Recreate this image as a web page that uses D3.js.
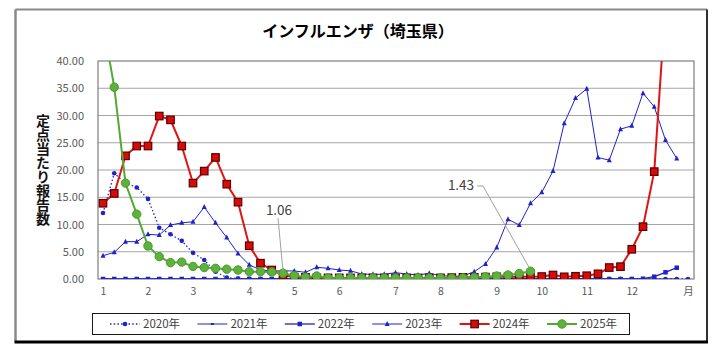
<!DOCTYPE html>
<html><head><meta charset="utf-8">
<script src="https://cdn.jsdelivr.net/npm/d3@7/dist/d3.min.js"></script>
<style>
html,body{margin:0;padding:0;background:#fff;}
svg{display:block;font-family:"Noto Sans CJK JP","Noto Sans",sans-serif;}
</style></head>
<body><svg id="c" width="721" height="355"></svg>
<script>
// ---- data ----
const title = "インフルエンザ（埼玉県）";
const yTitle = "定点当たり報告数";
const monthTickWeeks = [1,5,9,14,18,22,27,31,36,40,44,48,53];
const monthTickLabels = ["1","2","3","4","5","6","7","8","9","10","11","12","月"];
const yTicks = [0,5,10,15,20,25,30,35,40];
const seriesNames = ["2020年","2021年","2022年","2023年","2024年","2025年"];

const v2020 = [12.1,19.4,17.6,16.8,14.7,9.4,8.2,7.0,4.8,3.5,1.35,0.25,0.06,0.02,0.01,0,0,0,0,0,0,0,0,0,0,0,0,0,0,0,0,0,0,0,0,0,0,0,0,0,0,0,0,0,0,0,0,0,0,0,0,0,0];
const v2021 = [0,0,0,0,0,0,0,0,0,0,0,0,0,0,0,0,0,0,0,0,0,0,0,0,0,0,0,0,0,0,0,0,0,0,0,0,0,0,0,0,0,0,0,0,0,0,0,0,0,0,0,0];
const v2022 = [0,0,0,0,0,0,0,0,0,0,0,0,0,0,0,0,0,0,0,0,0,0,0,0,0,0,0,0,0,0,0,0,0,0,0,0,0,0,0,0,0,0,0,0,0,0,0,0,0.05,0.42,1.23,2.07];
const v2023 = [4.28,4.9,6.85,6.85,8.2,8.07,9.9,10.3,10.5,13.2,10.3,7.6,4.7,2.6,1.65,1.47,1.5,1.47,1.23,2.15,1.96,1.65,1.5,0.92,0.86,0.86,1.16,0.92,0.73,1.05,0.6,0.5,0.55,1.35,2.75,5.8,10.95,9.9,13.9,15.9,19.8,28.6,33.2,34.9,22.3,21.8,27.5,28.1,34.1,31.6,25.5,22.1];
const v2024 = [13.9,15.7,22.6,24.4,24.4,29.9,29.2,24.4,17.6,19.8,22.3,17.4,14.1,6.1,2.9,1.65,0.7,0.35,0.3,0.2,0.2,0.2,0.2,0.2,0.2,0.2,0.2,0.2,0.2,0.2,0.2,0.25,0.3,0.3,0.35,0.4,0.4,0.42,0.4,0.45,0.73,0.4,0.5,0.6,0.95,2.1,2.26,5.45,9.6,19.7,50.5,70];
const v2025 = [47,35.2,17.6,11.9,6.06,4.1,3.0,3.1,2.3,2.1,1.96,1.8,1.65,1.35,1.35,1.3,1.06,0.6,0.35,0.55,0.2,0.2,0.2,0.2,0.2,0.2,0.2,0.2,0.2,0.2,0.2,0.15,0.2,0.3,0.42,0.55,0.73,1.0,1.43];

const labelPoints = [{series:5, week:17, text:"1.06"},{series:5, week:39, text:"1.43"}];

// ---- layout / styles ----
const W=721,H=355;
const plot = {l:98, r:694, t:61, b:279};
const blue = "#1e22c8";
const styles = [
  {color:blue, width:1.3, dash:"1.5,2.2", marker:"circle", size:2.3, fill:blue, stroke:"none"},
  {color:blue, width:1.0, dash:null, marker:"dash", size:2, fill:blue, stroke:"none"},
  {color:blue, width:1.3, dash:null, marker:"square", size:4.5, fill:blue, stroke:"none"},
  {color:blue, width:1.0, dash:null, marker:"triangle", size:5, fill:blue, stroke:"none"},
  {color:"#e01414", width:2, dash:null, marker:"square", size:7.5, fill:"#d80a0a", stroke:"#5a0000"},
  {color:"#55a836", width:2, dash:null, marker:"circle", size:4.2, fill:"#5cb23a", stroke:"#4a9a2c"}
];
const allSeries = [v2020,v2021,v2022,v2023,v2024,v2025];

const svg = d3.select("#c");
svg.append("rect").attr("width",W).attr("height",H).attr("fill","#fff");

// outer frame
const fr = {l:15.5,t:9.5,r:707,b:342};
svg.append("line").attr("x1",fr.l).attr("y1",fr.t).attr("x2",fr.r).attr("y2",fr.t).attr("stroke","#8a8a8a").attr("stroke-width",2);
svg.append("line").attr("x1",fr.l).attr("y1",fr.t).attr("x2",fr.l).attr("y2",fr.b).attr("stroke","#8a8a8a").attr("stroke-width",2.5);
svg.append("line").attr("x1",fr.r).attr("y1",fr.t).attr("x2",fr.r).attr("y2",fr.b).attr("stroke","#303030").attr("stroke-width",2);
svg.append("line").attr("x1",fr.l-1).attr("y1",fr.b).attr("x2",fr.r+1).attr("y2",fr.b).attr("stroke","#000").attr("stroke-width",3);

const x = d3.scaleLinear().domain([1,53]).range([103,688]);
const y = d3.scaleLinear().domain([0,40]).range([plot.b,plot.t]);

// gridlines
svg.append("g").selectAll("line").data(yTicks.filter(d=>d>0 && d<40)).join("line")
  .attr("x1",plot.l).attr("x2",plot.r).attr("y1",d=>y(d)).attr("y2",d=>y(d))
  .attr("stroke","#a6a6a6").attr("stroke-width",1);
svg.append("rect").attr("x",plot.l).attr("y",plot.t).attr("width",plot.r-plot.l).attr("height",plot.b-plot.t)
  .attr("fill","none").attr("stroke","#7f7f7f").attr("stroke-width",1.2);

// axes
const yAxis = svg.append("g").attr("transform",`translate(${plot.l},0)`)
  .call(d3.axisLeft(y).tickValues(yTicks).tickFormat(d3.format(".2f")).tickSize(0).tickPadding(14));
yAxis.select(".domain").remove();
yAxis.selectAll("text").attr("fill","#595959").style("font-size","11px").style("font-family","'Noto Sans CJK JP','Noto Sans',sans-serif");

const xAxis = svg.append("g").attr("transform",`translate(0,${plot.b})`)
  .call(d3.axisBottom(x).tickValues(monthTickWeeks).tickFormat((d,i)=>monthTickLabels[i]).tickSize(0).tickPadding(9));
xAxis.select(".domain").remove();
xAxis.selectAll("text").attr("fill","#595959").style("font-size","10.5px").style("font-family","'Noto Sans CJK JP','Noto Sans',sans-serif");

// title
svg.append("text").attr("x",358).attr("y",37).attr("text-anchor","middle")
  .style("font-size","16px").style("font-weight","bold").attr("fill","#000").text(title);

// y title vertical
svg.append("text").attr("x",43).attr("y",170).attr("text-anchor","middle")
  .style("writing-mode","vertical-rl").style("text-orientation","upright")
  .style("font-size","14px").style("font-weight","bold").attr("fill","#111").text(yTitle);

// clip
svg.append("clipPath").attr("id","pc").append("rect")
  .attr("x",plot.l).attr("y",plot.t).attr("width",plot.r-plot.l).attr("height",plot.b-plot.t);
const g = svg.append("g").attr("clip-path","url(#pc)");

function drawMarker(sel, st, cx, cy){
  if(st.marker==="circle"){
    sel.append("circle").attr("cx",cx).attr("cy",cy).attr("r",st.size).attr("fill",st.fill).attr("stroke",st.stroke);
  } else if(st.marker==="square"){
    sel.append("rect").attr("x",cx-st.size/2).attr("y",cy-st.size/2).attr("width",st.size).attr("height",st.size)
      .attr("fill",st.fill).attr("stroke",st.stroke).attr("stroke-width",st.stroke==="none"?0:1.2);
  } else if(st.marker==="triangle"){
    const s=st.size;
    sel.append("path").attr("d",`M${cx},${cy-s*0.6}L${cx+s/2},${cy+s*0.4}L${cx-s/2},${cy+s*0.4}Z`).attr("fill",st.fill);
  } else if(st.marker==="dash"){
    sel.append("rect").attr("x",cx-1.5).attr("y",cy-1).attr("width",3).attr("height",st.size).attr("fill",st.fill);
  }
}

const line = d3.line().x((d,i)=>x(i+1)).y(d=>y(d));
allSeries.forEach((vals,si)=>{
  const st = styles[si];
  const sg = g.append("g");
  sg.append("path").datum(vals).attr("d",line).attr("fill","none")
    .attr("stroke",st.color).attr("stroke-width",st.width).attr("stroke-dasharray",st.dash)
    .attr("stroke-linejoin","round");
  vals.forEach((v,i)=>drawMarker(sg, st, x(i+1), y(v)));
});

// data labels with leader lines
const lab = labelPoints.map(p=>({...p, px:x(p.week), py:y(allSeries[p.series][p.week-1])}));
svg.append("line").attr("x1",278).attr("y1",218).attr("x2",lab[0].px).attr("y2",lab[0].py-2)
  .attr("stroke","#a0a0a0").attr("stroke-width",1);
svg.append("text").attr("x",279).attr("y",215).attr("text-anchor","middle").style("font-size","13.5px").attr("fill","#404040").text(lab[0].text);
svg.append("polyline").attr("points",`477,186 483,186 ${lab[1].px-1},${lab[1].py-3}`)
  .attr("fill","none").attr("stroke","#a0a0a0").attr("stroke-width",1);
svg.append("text").attr("x",461).attr("y",190).attr("text-anchor","middle").style("font-size","13.5px").attr("fill","#404040").text(lab[1].text);

// legend
const lg = svg.append("g");
lg.append("rect").attr("x",92.5).attr("y",313.5).attr("width",537).attr("height",21).attr("fill","#fff").attr("stroke","#1a1a1a").attr("stroke-width",1);
seriesNames.forEach((name,i)=>{
  const st = styles[i];
  const x0 = 110 + 87.4*i, x1 = x0+30, cy = 324;
  lg.append("line").attr("x1",x0).attr("x2",x1).attr("y1",cy).attr("y2",cy)
    .attr("stroke",st.color).attr("stroke-width",st.width).attr("stroke-dasharray",st.dash);
  drawMarker(lg, st, (x0+x1)/2, cy);
  lg.append("text").attr("x",x1+3).attr("y",cy+4).style("font-size","11.5px").attr("fill","#404040").text(name);
});
</script></body></html>
